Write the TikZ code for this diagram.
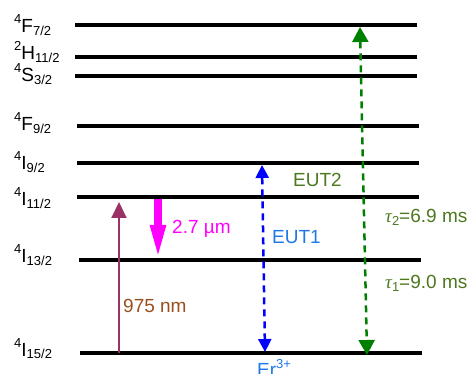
\documentclass[tikz,border=0pt]{standalone}
\usepackage{fontspec}
\setmainfont{Liberation Sans}
\newfontfamily\greekfont{Liberation Serif}
\usetikzlibrary{arrows.meta}

\definecolor{pumpcol}{RGB}{153,51,102}
\definecolor{pumptxt}{RGB}{153,80,30}
\definecolor{emitcol}{RGB}{255,0,255}
\definecolor{eutblue}{RGB}{0,0,255}
\definecolor{eutbluetxt}{RGB}{30,120,230}
\definecolor{eutgreen}{RGB}{0,128,0}
\definecolor{eutgreentxt}{RGB}{76,120,30}

\newcommand{\lvup}[1]{\raisebox{9pt}{\fontsize{13}{13}\selectfont #1}}
\newcommand{\lvdn}[1]{\raisebox{-2.5pt}{\fontsize{13}{13}\selectfont #1}}
\newcommand{\tauit}{{\greekfont\itshape τ}}

\begin{document}
\begin{tikzpicture}[x=1pt,y=-1pt,
  level/.style={line width=3.8pt},
  lvl/.style={anchor=base west,inner sep=0pt,font=\fontsize{19}{20}\selectfont},
  txt/.style={anchor=base west,inner sep=0pt,font=\fontsize{19}{20}\selectfont},
  eut/.style={line width=2.5pt,dash pattern=on 7pt off 5pt}]

\useasboundingbox (0,0) rectangle (469,374);

%Drawing levels
\draw[level] (75,25)--(417,25);
\draw[level] (75,57)--(417,57);
\draw[level] (75,76)--(417,76);
\draw[level] (77,126)--(419,126);
\draw[level] (77,163)--(419,163);
\draw[level] (77,197)--(419,197);
\draw[level] (79,260)--(421,260);
\draw[level] (80,353)--(422,353);

%level names
\node[lvl] (nF72) at (14,33) {\lvup{4}F\lvdn{7/2}};
\node[lvl] (nH112) at (14,60) {\lvup{2}H\lvdn{11/2}};
\node[lvl] (nS32) at (14,82) {\lvup{4}S\lvdn{3/2}};
\node[lvl] (nF92) at (14,131) {\lvup{4}F\lvdn{9/2}};
\node[lvl] (nI92) at (14,170) {\lvup{4}I\lvdn{9/2}};
\node[lvl] (nI112) at (14,206) {\lvup{4}I\lvdn{11/2}};
\node[lvl] (nI132) at (14,263) {\lvup{4}I\lvdn{13/2}};
\node[lvl] (nI152) at (14,356) {\lvup{4}I\lvdn{15/2}};

%arrow ends
\coordinate (pumpA) at (119,353);
\coordinate (pumpB) at (119,202);
\coordinate (emitA) at (158,199);
\coordinate (emitB) at (158,260);
\coordinate (euta) at (262,165);
\coordinate (eutb) at (265,352);
\coordinate (eutc) at (360,27);
\coordinate (eutd) at (367,355);

%pump and emission
\draw[pumpcol,line width=2pt,-{Triangle[width=15pt,length=16pt]}] (pumpA)--(pumpB);
\draw[emitcol,line width=7.5pt,-{Triangle[width=14pt,length=35pt]}] (emitA)--(emitB);

%energy transfer upconversion
\draw[eut,eutblue,{Triangle[width=13pt,length=13pt]}-{Triangle[width=13pt,length=13pt]}] (euta)--(eutb);
\draw[eut,eutgreen,{Triangle[width=16pt,length=15pt]}-{Triangle[width=16pt,length=15pt]}] (eutc)--(eutd);

%labels
\node[txt,text=pumptxt] (l975) at (123,312.5) {975 nm};
\node[txt,text=emitcol] (l27) at (172,234) {2.7 µm};
\node[txt,text=eutbluetxt] (lEUT1) at (272,244) {EUT1};
\node[txt,text=eutgreentxt] (lEUT2) at (293,186.5) {EUT2};
\node[txt,text=eutgreentxt] (ltau2) at (385,223) {\tauit\lvdn{2}=6.9 ms};
\node[txt,text=eutgreentxt] (ltau1) at (385,289) {\tauit\lvdn{1}=9.0 ms};
\node[txt,text=eutbluetxt] (lEr) at (257,377) {Er\lvup{3+}};
\end{tikzpicture}
\end{document}
